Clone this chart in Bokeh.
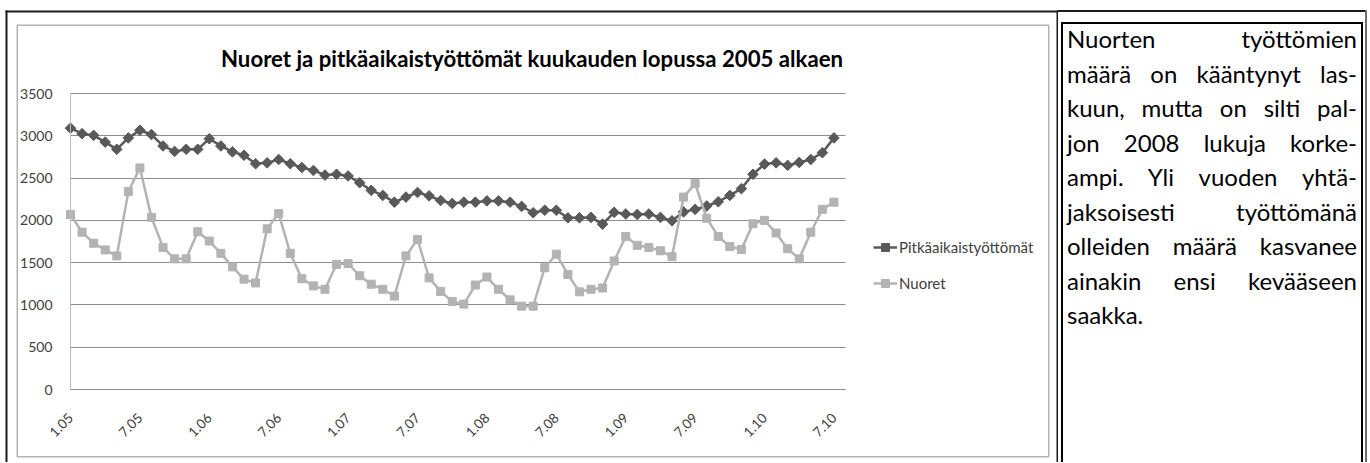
from math import pi
from bokeh.plotting import figure
from bokeh.models import (Range1d, FixedTicker, Legend, LegendItem, Label,
                          BoxAnnotation, Div, Grid)
from bokeh.layouts import row
from bokeh.embed import file_html
from bokeh.resources import INLINE

# ---------------- data ----------------
title_text = "Nuoret ja pitkäaikaistyöttömät kuukauden lopussa 2005 alkaen"
series_names = ["Pitkäaikaistyöttömät", "Nuoret"]

# monthly values, 1.2005 ... 7.2010
pitka = [3090, 3025, 3005, 2925, 2840, 2975, 3065, 3015, 2880, 2815, 2840, 2840,
         2965, 2880, 2810, 2770, 2670, 2680, 2720, 2670, 2625, 2590, 2535, 2545,
         2525, 2445, 2355, 2295, 2215, 2275, 2330, 2290, 2235, 2200, 2215, 2215,
         2230, 2230, 2215, 2165, 2090, 2120, 2120, 2030, 2030, 2035, 1955, 2095,
         2075, 2070, 2075, 2035, 1995, 2100, 2130, 2170, 2220, 2295, 2375, 2545,
         2665, 2680, 2650, 2685, 2720, 2800, 2975]
nuoret = [2070, 1860, 1730, 1650, 1580, 2340, 2620, 2035, 1680, 1545, 1545, 1865,
          1755, 1610, 1450, 1305, 1260, 1900, 2080, 1610, 1310, 1225, 1185, 1480,
          1490, 1345, 1245, 1185, 1105, 1580, 1775, 1320, 1160, 1040, 1010, 1235,
          1330, 1185, 1060, 985, 985, 1440, 1600, 1360, 1155, 1185, 1200, 1520,
          1810, 1705, 1680, 1640, 1570, 2275, 2435, 2025, 1810, 1690, 1655, 1960,
          2000, 1850, 1665, 1545, 1860, 2130, 2215]
tick_labels = ["1.05", "7.05", "1.06", "7.06", "1.07", "7.07", "1.08", "7.08",
               "1.09", "7.09", "1.10", "7.10"]
y_ticks = [0, 500, 1000, 1500, 2000, 2500, 3000, 3500]

text_lines = ["Nuorten työttömien",
              "määrä on kääntynyt las-",
              "kuun, mutta on silti pal-",
              "jon 2008 lukuja korke-",
              "ampi. Yli vuoden yhtä-",
              "jaksoisesti työttömänä",
              "olleiden määrä kasvanee",
              "ainakin ensi kevääseen",
              "saakka."]

# ---------------- geometry (page pixels) ----------------
FW, FH = 1058, 462          # chart figure
DW = 311                    # text cell width
PL, PR, PT, PB = 70, 845, 93, 389   # plot area
n_cat = len(pitka) + 1
y_max = y_ticks[-1]
sx = (PR - PL) / (n_cat - 1)
sy = (PB - PT) / y_max


def dx(px):
    return (px - PL) / sx


def dy(py):
    return (PB - py) / sy


p = figure(width=FW, height=FH, output_backend="svg", toolbar_location=None,
           x_range=Range1d(dx(0), dx(FW)), y_range=Range1d(dy(FH), dy(0)),
           min_border=0)
p.title.visible = False
p.outline_line_color = None
p.background_fill_color = "white"
p.border_fill_color = "white"

grid_color = "#8c8c8c"
label_color = "#404040"
x = list(range(len(pitka)))
tick_pos = [i * 6 for i in range(len(tick_labels))]

xa = p.xaxis[0]
xa.fixed_location = 0
xa.bounds = (0, n_cat - 1)
xa.ticker = FixedTicker(ticks=tick_pos)
xa.major_label_overrides = {t: l for t, l in zip(tick_pos, tick_labels)}
xa.major_label_orientation = pi / 4
xa.major_tick_line_color = None
xa.minor_tick_line_color = None
xa.axis_line_color = grid_color
xa.major_label_text_font = "Lato"
xa.major_label_text_font_size = "13.5px"
xa.major_label_text_color = label_color
xa.major_label_standoff = 20

ya = p.yaxis[0]
ya.fixed_location = 0
ya.bounds = (0, y_max)
ya.ticker = FixedTicker(ticks=y_ticks)
ya.major_tick_line_color = None
ya.minor_tick_line_color = None
ya.axis_line_color = "#bdbdbd"
ya.major_label_text_font = "Lato"
ya.major_label_text_font_size = "14px"
ya.major_label_text_color = label_color
ya.major_label_standoff = 12

p.xgrid.visible = False
if "cross_bounds" in Grid.properties():
    p.ygrid.ticker = FixedTicker(ticks=y_ticks)
    p.ygrid.bounds = (0, y_max)
    p.ygrid.cross_bounds = (0, n_cat - 1)
    p.ygrid.grid_line_color = grid_color
    p.ygrid.grid_line_width = 1
else:
    p.ygrid.visible = False
    p.segment(x0=[0] * len(y_ticks), x1=[n_cat - 1] * len(y_ticks),
              y0=y_ticks, y1=y_ticks, line_color=grid_color, line_width=1,
              level="underlay")

dark = "#595959"
light = "#b3b3b3"
l1 = p.line(x, pitka, line_color=dark, line_width=2.5)
s1 = p.scatter(x, pitka, marker="square", angle=pi / 4, size=7.5,
               fill_color=dark, line_color=dark)
l2 = p.line(x, nuoret, line_color=light, line_width=2.5)
s2 = p.scatter(x, nuoret, marker="square", size=8, fill_color=light, line_color=light)

legend = Legend(items=[LegendItem(label=series_names[0], renderers=[l1, s1]),
                       LegendItem(label=series_names[1], renderers=[l2, s2])],
                location=(873, FH - 293), orientation="vertical",
                glyph_width=24, glyph_height=20, label_height=20, spacing=16,
                padding=0, margin=0, border_line_color=None,
                background_fill_alpha=0, label_standoff=2,
                label_text_font="Lato", label_text_font_size="15px",
                label_text_color=label_color)
p.add_layout(legend, "center")

p.add_layout(Label(x=dx(531.5), y=dy(58), text=title_text,
                   text_align="center", text_baseline="middle",
                   text_font="Lato", text_font_style="bold",
                   text_font_size="22.2px", text_color="black"))


def box(x0, x1, y0, y1, **kw):
    return BoxAnnotation(left=dx(x0), right=dx(x1), top=dy(y0), bottom=dy(y1), **kw)


# chart area frame
p.add_layout(box(16.75, 1048.25, 24.75, 456.25, fill_alpha=0,
                 line_color="#b3b3b3", line_width=1.5, line_alpha=1))
# table borders
solid = dict(fill_color="#1a1a1a", fill_alpha=1, line_alpha=0)
p.add_layout(box(5, FW, 10, 12, **solid))
p.add_layout(box(5, 7, 10, FH + 2, **solid))
p.add_layout(box(FW - 2, FW, 10, FH + 2, **solid))

# ---------------- text box ----------------
rows = []
for i, t in enumerate(text_lines):
    if i < len(text_lines) - 1:
        align = "text-align:justify;text-align-last:justify;"
    else:
        align = "text-align:left;"
    rows.append(f'<div style="{align}height:34.5px;white-space:normal;">{t}</div>')

html = (
    f'<div style="position:relative;width:{DW}px;height:{FH}px;overflow:hidden;'
    'font-family:Lato;background:white;margin:0;padding:0;">'
    f'<div style="position:absolute;left:0;top:10px;width:{DW - 2}px;height:2px;background:#1a1a1a;"></div>'
    f'<div style="position:absolute;left:{DW - 4}px;top:10px;width:2px;height:{FH}px;background:#6f6f6f;"></div>'
    '<div style="position:absolute;left:3px;top:22px;width:302px;height:470px;'
    'box-sizing:border-box;border:2px solid #000;"></div>'
    '<div style="position:absolute;left:9px;top:22px;width:290px;'
    'font-size:24px;line-height:34.5px;color:#000;">'
    + "".join(rows) +
    '</div></div>'
)
div = Div(text=html, width=DW, height=FH, margin=(0, 0, 0, 0))

layout = row(p, div)
open("out.html", "w").write(file_html(layout, INLINE, "chart"))
